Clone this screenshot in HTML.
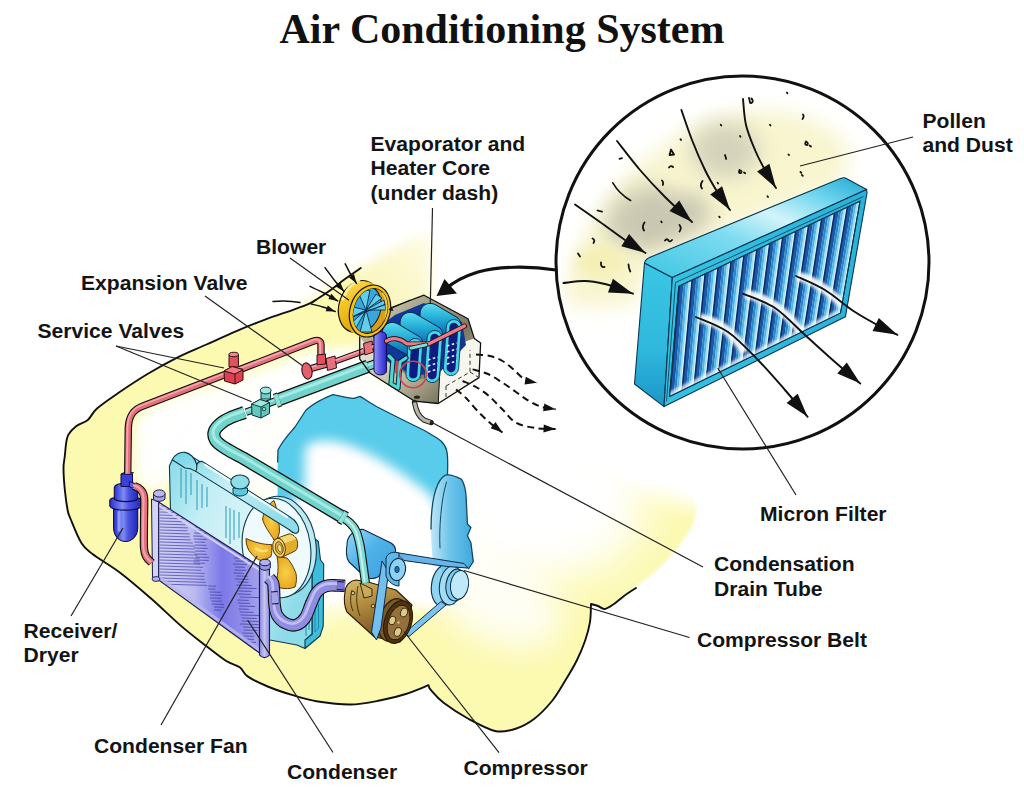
<!DOCTYPE html>
<html><head><meta charset="utf-8">
<style>
html,body{margin:0;padding:0;background:#fff;}
body{width:1024px;height:796px;overflow:hidden;position:relative;}
svg{position:absolute;left:0;top:0;}
.t{font-family:"Liberation Serif",serif;font-weight:bold;font-size:42px;fill:#111;}
.l{font-family:"Liberation Sans",sans-serif;font-weight:bold;font-size:21.1px;fill:#141414;}
.k{fill:none;stroke:#111;stroke-width:1.3;stroke-linecap:round;stroke-linejoin:round;}
.ld{fill:none;stroke:#222;stroke-width:1.2;}
</style></head><body>
<svg width="1024" height="796" viewBox="0 0 1024 796">
<!-- defs -->
<defs>
<filter id="b6" x="-30%" y="-30%" width="160%" height="160%"><feGaussianBlur stdDeviation="6"/></filter>
<filter id="b10" x="-30%" y="-30%" width="160%" height="160%"><feGaussianBlur stdDeviation="10"/></filter>
<filter id="b16" x="-40%" y="-40%" width="180%" height="180%"><feGaussianBlur stdDeviation="16"/></filter>
<filter id="b25" x="-50%" y="-50%" width="200%" height="200%"><feGaussianBlur stdDeviation="25"/></filter>
<filter id="b3" x="-30%" y="-30%" width="160%" height="160%"><feGaussianBlur stdDeviation="3"/></filter>
<filter id="b2" x="-30%" y="-30%" width="160%" height="160%"><feGaussianBlur stdDeviation="1.6"/></filter>
<marker id="ah" viewBox="0 0 10 10" refX="9" refY="5" markerWidth="9" markerHeight="9" orient="auto-start-reverse" markerUnits="userSpaceOnUse"><path d="M0,0 L10,5 L0,10 z" fill="#111"/></marker>
</defs>
<!-- body -->
<g id="body">
<linearGradient id="patchg" gradientUnits="userSpaceOnUse" x1="590" y1="500" x2="680" y2="560"><stop offset="0" stop-color="#fbf6b8" stop-opacity="0"/><stop offset=".55" stop-color="#fbf6b8" stop-opacity=".75"/><stop offset="1" stop-color="#fbf5b2" stop-opacity="1"/></linearGradient>
<linearGradient id="hazeg" gradientUnits="userSpaceOnUse" x1="340" y1="320" x2="425" y2="240"><stop offset="0" stop-color="#fbf6b4"/><stop offset=".5" stop-color="#fbf7c4"/><stop offset="1" stop-color="#fdfbe2"/></linearGradient>
<path d="M298,309 L360,268 L412,238 C424,232 432,236 432,246 L432,300 L400,325 L330,330 z" fill="url(#hazeg)" filter="url(#b6)"/>
<path d="M360.8,268.0 C358.2,269.8 350.1,275.3 345.0,279.0 C339.9,282.7 334.8,286.9 330.3,290.2 C325.8,293.4 321.3,296.4 318.0,298.5 C314.7,300.6 314.3,301.3 310.4,303.1 C306.5,304.9 302.0,306.6 294.4,309.3 C286.8,312.1 274.8,315.9 265.0,319.6 C255.2,323.3 245.6,327.2 235.8,331.3 C226.1,335.4 216.3,340.1 206.5,344.5 C196.7,348.9 187.0,352.7 177.2,357.6 C167.4,362.5 157.7,367.9 147.9,373.8 C138.1,379.7 127.1,387.0 118.6,392.8 C110.1,398.6 102.1,404.0 97.0,408.5 C91.9,413.0 91.2,417.1 87.8,420.0 C84.4,422.9 79.9,423.2 76.5,426.0 C73.1,428.8 69.6,431.3 67.6,436.5 C65.6,441.7 65.4,451.7 64.7,457.0 C64.0,462.3 63.5,462.8 63.5,468.4 C63.5,474.0 64.2,483.6 64.9,490.5 C65.6,497.4 66.7,505.3 67.6,510.0 C68.5,514.7 68.1,513.0 70.4,518.5 C72.7,524.0 77.7,537.1 81.4,543.0 C85.1,548.9 86.0,549.0 92.5,554.0 C99.0,559.0 110.7,565.6 120.4,572.9 C130.1,580.2 140.4,589.2 150.5,598.0 C160.6,606.8 171.5,617.6 180.7,625.6 C189.9,633.6 198.3,639.8 205.8,645.7 C213.3,651.6 220.2,657.1 225.9,660.8 C231.6,664.4 236.4,665.0 240.0,667.6 C243.6,670.2 243.0,673.2 247.6,676.4 C252.2,679.5 260.2,683.4 267.7,686.5 C275.2,689.6 284.4,692.7 292.8,695.2 C301.2,697.7 308.4,700.0 318.0,701.5 C327.6,703.0 340.1,704.7 350.6,704.5 C361.1,704.3 371.6,702.0 380.8,700.3 C390.0,698.5 397.9,696.5 405.9,694.0 C413.8,691.5 424.7,686.7 428.5,685.2 C428.9,686.0 428.5,687.3 431.0,690.2 C433.5,693.1 437.3,698.0 443.6,702.8 C449.9,707.6 460.1,714.3 468.7,719.0 C477.3,723.7 487.3,729.3 495.0,731.0 C502.7,732.7 508.5,731.0 515.0,729.0 C521.5,727.0 527.8,723.7 534.0,719.0 C540.2,714.3 546.7,707.5 552.0,701.0 C557.3,694.5 561.4,686.8 565.6,680.0 C569.8,673.2 573.8,666.5 577.0,660.0 C580.2,653.5 582.8,647.3 585.0,641.0 C587.2,634.7 589.0,628.2 590.0,622.0 C591.0,615.8 590.8,607.0 591.0,604.0 C592.2,604.3 595.7,605.2 598.0,606.0 C600.3,606.8 602.0,609.3 604.7,609.0 C607.4,608.7 610.8,606.2 614.0,604.0 C617.2,601.8 620.3,598.7 624.0,596.0 C627.7,593.3 634.0,589.3 636.0,588.0 C639.2,585.5 649.0,578.3 655.0,573.0 C661.0,567.7 666.8,561.8 672.0,556.0 C677.2,550.2 682.1,544.0 686.0,538.0 C689.9,532.0 693.8,525.8 695.6,520.0 C697.4,514.2 697.9,507.8 697.0,503.0 C696.1,498.2 693.0,493.8 690.0,491.0 C687.0,488.2 680.8,486.8 679.0,486.0 L650,484 L600,470 L560,450 L480,420 L428,345 L366,336 L353,300 z" fill="#fcf9b0"/>
<ellipse cx="490" cy="480" rx="120" ry="95" fill="#fff" filter="url(#b25)"/>
<ellipse cx="568" cy="500" rx="78" ry="72" fill="#fff" filter="url(#b25)"/>
<ellipse cx="400" cy="430" rx="110" ry="50" fill="#fff" filter="url(#b16)"/>
<ellipse cx="495" cy="598" rx="72" ry="42" transform="rotate(28 495 598)" fill="#fff" filter="url(#b16)" opacity=".85"/>
<ellipse cx="500" cy="370" rx="45" ry="60" fill="#fff" filter="url(#b10)"/>
<ellipse cx="330" cy="560" rx="40" ry="55" fill="#fff" filter="url(#b16)"/>
<path d="M135,482 L135,428 C137,416 143,411 151,408 L230,379 L318,348 L362,346 L372,372 L420,408 L380,440 L330,470 L300,520 L240,492 L172,458 L158,494 z" fill="#fff" filter="url(#b6)" opacity=".93"/>
<ellipse cx="185" cy="445" rx="42" ry="45" fill="#fff" filter="url(#b10)" opacity=".9"/>
<ellipse cx="215" cy="440" rx="50" ry="38" fill="#fff" filter="url(#b16)" opacity=".75"/>
<ellipse cx="290" cy="383" rx="62" ry="11" transform="rotate(-20 290 383)" fill="#fff" filter="url(#b6)" opacity=".9"/>
<path d="M712,492 L690,482 L640,466 L560,440 L470,410" fill="none" stroke="#fff" stroke-width="46" filter="url(#b10)"/>
<path d="M636.0,588.0 C639.2,585.5 649.0,578.3 655.0,573.0 C661.0,567.7 666.8,561.8 672.0,556.0 C677.2,550.2 682.1,544.0 686.0,538.0 C689.9,532.0 693.8,525.8 695.6,520.0 C697.4,514.2 697.9,507.8 697.0,503.0 C696.1,498.2 693.0,493.8 690.0,491.0 C687.0,488.2 680.8,486.8 679.0,486.0" fill="none" stroke="#fff" stroke-width="3" filter="url(#b2)" opacity=".8"/>
<path class="k" style="stroke-width:1.9" d="M360.8,268.0 C358.2,269.8 350.1,275.3 345.0,279.0 C339.9,282.7 334.8,286.9 330.3,290.2 C325.8,293.4 321.3,296.4 318.0,298.5 C314.7,300.6 314.3,301.3 310.4,303.1 C306.5,304.9 302.0,306.6 294.4,309.3 C286.8,312.1 274.8,315.9 265.0,319.6 C255.2,323.3 245.6,327.2 235.8,331.3 C226.1,335.4 216.3,340.1 206.5,344.5 C196.7,348.9 187.0,352.7 177.2,357.6 C167.4,362.5 157.7,367.9 147.9,373.8 C138.1,379.7 127.1,387.0 118.6,392.8 C110.1,398.6 102.1,404.0 97.0,408.5 C91.9,413.0 91.2,417.1 87.8,420.0 C84.4,422.9 79.9,423.2 76.5,426.0 C73.1,428.8 69.6,431.3 67.6,436.5 C65.6,441.7 65.4,451.7 64.7,457.0 C64.0,462.3 63.5,462.8 63.5,468.4 C63.5,474.0 64.2,483.6 64.9,490.5 C65.6,497.4 66.7,505.3 67.6,510.0 C68.5,514.7 68.1,513.0 70.4,518.5 C72.7,524.0 77.7,537.1 81.4,543.0 C85.1,548.9 86.0,549.0 92.5,554.0 C99.0,559.0 110.7,565.6 120.4,572.9 C130.1,580.2 140.4,589.2 150.5,598.0 C160.6,606.8 171.5,617.6 180.7,625.6 C189.9,633.6 198.3,639.8 205.8,645.7 C213.3,651.6 220.2,657.1 225.9,660.8 C231.6,664.4 236.4,665.0 240.0,667.6 C243.6,670.2 243.0,673.2 247.6,676.4 C252.2,679.5 260.2,683.4 267.7,686.5 C275.2,689.6 284.4,692.7 292.8,695.2 C301.2,697.7 308.4,700.0 318.0,701.5 C327.6,703.0 340.1,704.7 350.6,704.5 C361.1,704.3 371.6,702.0 380.8,700.3 C390.0,698.5 397.9,696.5 405.9,694.0 C413.8,691.5 424.7,686.7 428.5,685.2 C428.9,686.0 428.5,687.3 431.0,690.2 C433.5,693.1 437.3,698.0 443.6,702.8 C449.9,707.6 460.1,714.3 468.7,719.0 C477.3,723.7 487.3,729.3 495.0,731.0 C502.7,732.7 508.5,731.0 515.0,729.0 C521.5,727.0 527.8,723.7 534.0,719.0 C540.2,714.3 546.7,707.5 552.0,701.0 C557.3,694.5 561.4,686.8 565.6,680.0 C569.8,673.2 573.8,666.5 577.0,660.0 C580.2,653.5 582.8,647.3 585.0,641.0 C587.2,634.7 589.0,628.2 590.0,622.0 C591.0,615.8 590.8,607.0 591.0,604.0 C592.2,604.3 595.7,605.2 598.0,606.0 C600.3,606.8 602.0,609.3 604.7,609.0 C607.4,608.7 610.8,606.2 614.0,604.0 C617.2,601.8 620.3,598.7 624.0,596.0 C627.7,593.3 634.0,589.3 636.0,588.0"/>
</g>
<!-- engine -->
<g id="engine">
<path d="M277.6,470 L278,450 C283,440 290,433 295,427 L306,410 C314,403 324,398 333,394.6 C340,396 348,398.5 354,398.3 L360,396.4 C366,400 372,404 377.4,407 L401,419 L424.4,430.5 C430,434 436,437 441,441 C444,444 446,447 446.7,450.5 C448,456 448,462 447.5,474 L447,520 L380,520 L277.6,500 z" fill="#58ccea"/>
<path d="M305,447 C328,426 384,457 430,494 L470,560 L440,610 L300,600 L262,530 L285,508 L304,492 z" fill="#fff" filter="url(#b6)"/>
<path class="k" style="stroke:#0f4a66" d="M277.6,462 L278,450 C283,440 290,433 295,427 L306,410 C314,403 324,398 333,394.6 C340,396 348,398.5 354,398.3 L360,396.4 C366,400 372,404 377.4,407 L401,419 L424.4,430.5 C430,434 436,437 441,441 C444,444 446,447 446.7,450.5 C448,456 448,462 447.5,474"/>
<!-- timing cover -->
<linearGradient id="tcg" x1="0" y1="0" x2="1" y2="0"><stop offset="0" stop-color="#bfe6f6"/><stop offset=".45" stop-color="#6cc4ea"/><stop offset="1" stop-color="#3fa9dc"/></linearGradient>
<path d="M433.5,566 C431,545 430.5,528 431.5,515 C432,502 434,492 438,484 C441,478 444,475 447.4,474.7 C452,475 457,477 461.5,479.4 C465,485 466,492 466.2,498.2 L467.4,524 L470.9,527.5 L467.4,535.8 L470.9,542.8 L473.3,561.6 L468.6,568.6 z" fill="url(#tcg)"/>
<path class="k" style="stroke:#0f4a66" d="M431,529 C431,512 433,495 438,484 C441,478 444,475 447.4,474.7 C452,475 457,477 461.5,479.4 C465,485 466,492 466.2,498.2 L467.4,524 L470.9,527.5 L467.4,535.8 L470.9,542.8 L473.3,561.6 L468.6,568.6"/>
<path class="k" style="stroke-width:1;stroke:#0f4a66" d="M446.5,482 C441,500 439,528 440,548"/>
</g>
<!-- radiator -->
<g id="radiator">
<linearGradient id="radg" x1="0" y1="0" x2="1" y2="0.6"><stop offset="0" stop-color="#86d9e8"/><stop offset=".3" stop-color="#c4eef5"/><stop offset=".6" stop-color="#d9f5f9"/><stop offset="1" stop-color="#8edbea"/></linearGradient>
<linearGradient id="tankg" x1="0" y1="0" x2="0.5" y2="1"><stop offset="0" stop-color="#6fd3e6"/><stop offset=".5" stop-color="#c9f0f6"/><stop offset="1" stop-color="#8fdcea"/></linearGradient>
<linearGradient id="cong" x1="0" y1="0" x2="1" y2="0"><stop offset="0" stop-color="#cfcff4"/><stop offset=".35" stop-color="#bcbbf0"/><stop offset=".5" stop-color="#9896ec"/><stop offset=".63" stop-color="#7c78e8"/><stop offset=".8" stop-color="#8d8ae8"/><stop offset="1" stop-color="#a2a0ec"/></linearGradient>
<linearGradient id="postg" x1="0" y1="0" x2="1" y2="0"><stop offset="0" stop-color="#8a88e0"/><stop offset=".5" stop-color="#c4c3f2"/><stop offset="1" stop-color="#8e8ce2"/></linearGradient>
<linearGradient id="recg" x1="0" y1="0" x2="1" y2="0"><stop offset="0" stop-color="#2a2fd0"/><stop offset=".4" stop-color="#7f8cf2"/><stop offset=".6" stop-color="#4a55e0"/><stop offset="1" stop-color="#2226b8"/></linearGradient>
<radialGradient id="fang" cx=".5" cy=".5" r=".6"><stop offset="0" stop-color="#f7d04a"/><stop offset="1" stop-color="#e7a21c"/></radialGradient>
<path d="M312,537 L318.3,541.2 L320.5,560 L323.7,564 L323.2,626 L320,636 L305,648.5 L304,640 L312,634 z" fill="#3fbcdc" stroke="#0d3a4a" stroke-width="1.1" stroke-linejoin="round"/>
<path d="M169.4,466 L172.3,459.7 L185,452.4 L294.7,519.4 L312,537 L312,634 L305,640 L305,648.5 L297,645 L270,640 L172,572 z" fill="url(#radg)" stroke="#0d3a4a" stroke-width="1.1" stroke-linejoin="round"/>
<path d="M306,600 L306,636 M309,610 L309,630 M315,590 L315,632 L318.5,628 L318.5,604" fill="none" stroke="#1a8aa8" stroke-width="1"/>
<path d="M181,468 L181,498 M186,470 L186,504 M191,473 L191,495 M197,480 L197,510 M202,484 L202,508 M207,487 L207,507 M226,506 L226,538 M230,508 L230,544 M234,510 L234,540 M239,512 L239,538 M246,520 L246,538" fill="none" stroke="#2a9ab6" stroke-width="1"/>
<ellipse cx="281" cy="546" rx="35" ry="50" transform="rotate(-8 281 546)" fill="#bfeaf3" stroke="#0d3a4a" stroke-width="1.1"/>
<ellipse cx="276.5" cy="548" rx="34" ry="50" transform="rotate(-8 276.5 548)" fill="#eefafc" stroke="#0d3a4a" stroke-width="1.1"/>
<path d="M274,540 C270,533 264,526 262.6,519 C264,510 269,503.5 274,500.5 C277,508 279,520 279.5,530 C279.5,534 278,537 277,539 z" fill="url(#fang)" stroke="#5a3a08" stroke-width="1"/>
<path d="M271.6,544.5 C264,545 254,542 246,538.5 C246,545 248,550 251,553 C254,557 258,560 261,560.5 C265,560 268,558 271,556.5 C272,553 272,548 271.6,544.5 z" fill="url(#fang)" stroke="#5a3a08" stroke-width="1"/>
<path d="M277,556.5 C279,566 278,577 275,586 C281,589 289,589.5 295,587 C297,581 297,575 295,571 C293,566 290,561 287,558 z" fill="url(#fang)" stroke="#5a3a08" stroke-width="1"/>
<path d="M255,548 C258,551 263,552 268,550" fill="none" stroke="#fbe58a" stroke-width="2" opacity=".8"/>
<path d="M172.3,459.7 C174,455 180,451.5 185,452.4 C190,453 195,458 196.8,464.6 C198,462 200,461 202.7,461.6 L290,517 C296,520.5 299.5,526 298.5,531 C297.5,535 293,533.5 288.9,529.5 L195.8,471.4 C192,469 188,468 185,468 z" fill="url(#tankg)" stroke="#0d3a4a" stroke-width="1.1" stroke-linejoin="round"/>
<path d="M205,465 L287,517" fill="none" stroke="#f2fcfd" stroke-width="2.4" stroke-linecap="round" opacity=".9"/>
<path class="k" style="stroke-width:1" d="M196.8,464.6 C197,468 196.5,470 195.8,471.4"/>
<path d="M233,488 L233,493 C236,497 244,497 247.5,493 L247.5,488 z" fill="#5cc9dd" stroke="#0d3a4a" stroke-width="1"/>
<ellipse cx="240" cy="482" rx="9.2" ry="7" fill="#8fdfeb" stroke="#0d3a4a" stroke-width="1.1"/>
<path d="M276.5,538.5 L289,533.8 C295,534.5 298.5,540 297.5,546 C297,549 296,550.5 295,551 L281.5,557.5 z" fill="#e2ac2c" stroke="#5a3a08" stroke-width="1"/>
<path d="M279,538 L290,534.5 C293,535 295,537 296,539 L283,544 z" fill="#f5d878"/>
<ellipse cx="279" cy="547.8" rx="6.2" ry="9.6" transform="rotate(-12 279 547.8)" fill="#f3d670" stroke="#5a3a08" stroke-width="1"/>
<ellipse cx="279.3" cy="548" rx="3.8" ry="6.4" transform="rotate(-12 279.3 548)" fill="#e0b040" stroke="#5a3a08" stroke-width=".8"/>
<ellipse cx="279.8" cy="548.2" rx="2" ry="3.8" transform="rotate(-12 279.8 548.2)" fill="#f6e08c" stroke="#5a3a08" stroke-width=".6"/>
<clipPath id="conclip"><path d="M158.6,502 L259.5,566.5 L259.5,653 L158.6,580 z"/></clipPath>
<path d="M158.6,502 L259.5,566.5 L259.5,653 L158.6,580 z" fill="url(#cong)" stroke="#1a1a50" stroke-width="1.1"/>
<g clip-path="url(#conclip)"><path d="M159.5,506.0 l20.5,0.6 M159.5,509.0 l21.0,0.6 M159.5,512.0 l23.6,0.7 M159.5,515.0 l22.9,0.7 M159.5,518.0 l25.3,0.8 M159.5,521.0 l25.8,0.8 M159.5,524.0 l26.0,0.8 M159.5,527.0 l28.4,0.9 M159.5,530.0 l28.0,0.8 M159.5,533.0 l30.3,0.9 M159.5,536.0 l30.2,0.9 M159.5,539.0 l31.3,0.9 M159.5,542.0 l33.4,1.0 M159.5,545.0 l35.6,1.1 M159.5,548.0 l34.6,1.0 M159.5,551.0 l35.9,1.1 M159.5,554.0 l38.2,1.1 M159.5,557.0 l40.2,1.2 M159.5,560.0 l40.1,1.2 M159.5,563.0 l40.6,1.2 M159.5,566.0 l43.4,1.3 M159.5,569.0 l41.7,1.3 M159.5,572.0 l45.2,1.4 M159.5,575.0 l44.5,1.3 M159.5,578.0 l45.1,1.4 M159.5,581.0 l46.1,1.4 M159.5,584.0 l47.7,1.4" fill="none" stroke="#4a48ac" stroke-width=".85" opacity=".9"/>
<path d="M195.4,527.0 l10.1,0.3 M194.7,530.0 l12.8,0.4 M194.1,533.0 l12.3,0.4 M193.2,536.0 l9.4,0.3 M193.6,539.0 l13.1,0.4 M194.3,542.0 l10.9,0.3 M194.8,545.0 l11.7,0.4 M193.9,548.0 l13.8,0.4 M195.1,551.0 l10.5,0.3 M194.7,554.0 l12.2,0.4 M195.6,557.0 l13.4,0.4 M193.9,560.0 l14.9,0.4 M193.4,563.0 l11.5,0.3 M208.3,586.0 l7.9,0.2 M208.2,589.0 l7.2,0.2 M209.5,592.0 l11.6,0.3 M210.0,595.0 l12.3,0.4 M209.9,598.0 l11.2,0.3 M211.5,601.0 l10.5,0.3 M211.9,604.0 l12.0,0.4 M214.1,607.0 l9.8,0.3 M214.0,610.0 l7.4,0.2 M233.8,558.0 l16.5,0.5 M235.4,561.0 l18.2,0.5 M232.9,564.0 l13.9,0.4 M234.8,567.0 l10.2,0.3 M234.4,570.0 l11.7,0.4 M233.4,573.0 l10.6,0.3 M236.4,576.0 l11.3,0.3 M234.7,579.0 l13.9,0.4 M237.6,582.0 l10.8,0.3 M236.3,585.0 l15.5,0.5 M238.4,588.0 l18.2,0.5 M238.8,591.0 l12.8,0.4 M237.4,594.0 l13.6,0.4 M239.6,597.0 l19.6,0.6 M237.1,600.0 l11.8,0.4 M237.8,603.0 l12.3,0.4 M239.2,606.0 l15.9,0.5 M238.7,609.0 l10.0,0.3 M239.7,612.0 l13.7,0.4 M240.7,615.0 l19.5,0.6 M241.6,618.0 l15.2,0.5 M241.7,621.0 l16.8,0.5 M239.8,624.0 l19.0,0.6 M243.1,627.0 l18.7,0.6 M243.6,630.0 l13.9,0.4 M242.4,633.0 l11.0,0.3 M243.7,636.0 l10.6,0.3 M241.8,639.0 l12.1,0.4 M242.6,642.0 l13.4,0.4 M242.6,645.0 l10.0,0.3 M243.3,648.0 l11.0,0.3" fill="none" stroke="#3c3aa2" stroke-width=".85" opacity=".85"/></g>
<path d="M158.6,505.5 L259.5,570" fill="none" stroke="#d4d3f6" stroke-width="2"/>
<path d="M158.6,577 L259.5,650" fill="none" stroke="#b9b8ee" stroke-width="3" opacity=".8"/>
<path d="M151.5,499 L158.6,502 L158.6,581 L152.5,578 z" fill="#d4d3f6" stroke="#1a1a50" stroke-width="1"/>
<path d="M153.5,494 L153.5,499 C155,502 163,502 165,499 L165,494 z" fill="#a8a6ea" stroke="#1a1a50" stroke-width="1"/>
<ellipse cx="159.3" cy="493.5" rx="5.8" ry="3.6" fill="#bab8f0" stroke="#1a1a50" stroke-width="1"/>
<ellipse cx="156" cy="579" rx="4" ry="2.4" fill="#b8b6ee" stroke="#1a1a50" stroke-width=".9"/>
<path d="M259.5,568 L269.5,568 L269.5,655 C267,658.5 262,658.5 259.5,655 z" fill="url(#postg)" stroke="#1a1a50" stroke-width="1.1"/>
<path d="M259.8,563 L259.8,568 C262,571 268,571 270.3,568 L270.3,563 z" fill="#9a98e6" stroke="#1a1a50" stroke-width="1"/>
<ellipse cx="265" cy="562.5" rx="5.3" ry="3.3" fill="#b3b1ee" stroke="#1a1a50" stroke-width="1"/>
<path d="M113.6,506 L113.6,528 C114,536 119,541.5 125.5,541.5 C132,541.5 137.5,536 137.7,528 L137.7,506 z" fill="url(#recg)" stroke="#0c0c50" stroke-width="1.1"/>
<path d="M109.8,500 L109.8,506 C112,511.5 139,511.5 141.5,506 L141.5,500 C139,495.5 112,495.5 109.8,500 z" fill="url(#recg)" stroke="#0c0c50" stroke-width="1.1"/>
<path d="M114.3,488 C114.3,481.5 137.7,481.5 137.7,488 L137.7,499 C134,502.5 118,502.5 114.3,499 z" fill="url(#recg)" stroke="#0c0c50" stroke-width="1.1"/>
<path d="M121,474 L132.4,474 L132.8,486.5 L121,486.5 z" fill="#3a40d8" stroke="#0c0c50" stroke-width="1"/>
<path d="M121,474 L124,472.5 L133.5,472.5 L132.4,474 z" fill="#6a72ea" stroke="#0c0c50" stroke-width=".8"/>
<path d="M129.4,481.5 L136.2,484 L136.2,489 L129.4,487 z" fill="#5a62e6" stroke="#0c0c50" stroke-width=".9"/>
<path d="M119,512 L119,530" stroke="#aab2fa" stroke-width="3" stroke-linecap="round" opacity=".7"/>
</g>
<!-- evapbox -->
<g id="evapbox">
<linearGradient id="bxt" x1="0" y1="0" x2="1" y2="1"><stop offset="0" stop-color="#e4e2d0"/><stop offset=".3" stop-color="#a8a488"/><stop offset=".6" stop-color="#7e7a60"/><stop offset="1" stop-color="#c9c6ae"/></linearGradient>
<linearGradient id="bxl" x1="0" y1="0" x2="1" y2="1"><stop offset="0" stop-color="#efeee2"/><stop offset=".55" stop-color="#c2bfa6"/><stop offset="1" stop-color="#77735a"/></linearGradient>
<linearGradient id="blw" x1="0" y1="0" x2="1" y2="1"><stop offset="0" stop-color="#f9e27a"/><stop offset=".35" stop-color="#f3c520"/><stop offset=".75" stop-color="#e0a512"/><stop offset="1" stop-color="#b8860c"/></linearGradient>
<linearGradient id="coil" x1="0" y1="0" x2="0" y2="1"><stop offset="0" stop-color="#5adeee"/><stop offset=".5" stop-color="#1fa8d4"/><stop offset="1" stop-color="#0d62ac"/></linearGradient>
<linearGradient id="vb" x1="0" y1="0" x2="1" y2="0"><stop offset="0" stop-color="#9a98f6"/><stop offset=".5" stop-color="#5a58e6"/><stop offset="1" stop-color="#2a28c8"/></linearGradient>
<!-- box -->
<path d="M359.7,336.8 L392.7,307 L424,295.2 L468,318.7 L474.3,338.4 L480.6,343 L479,377.6 L438.2,403.5 L414.6,401.2 L370,373 L359.7,358.8 z" fill="url(#bxt)"/>
<path d="M439.8,350 L474.3,338.4 L480.6,343 L479,377.6 L438.2,403.5 z" fill="#f7f6ee"/>
<path d="M359.7,336.8 L370,350 L414.6,380 L439.8,377.6 L438.2,403.5 L414.6,401.2 L370,373 L359.7,358.8 z" fill="url(#bxl)"/>
<path d="M372,332 L395,315 L424,303 L462,322 L466,345 L440,372 L414,376 L378,356 z" fill="#12379a"/>
</g>
<!-- pipes -->
<g id="pipes">
<path d="M127.7,474 L128.3,428 C128.8,416 133,409.5 143,406 L225,374.5" fill="none" stroke="#101010" stroke-width="7.4" stroke-linecap="butt" stroke-linejoin="round"/><path d="M127.7,474 L128.3,428 C128.8,416 133,409.5 143,406 L225,374.5" fill="none" stroke="#e4707c" stroke-width="5.2" stroke-linecap="butt" stroke-linejoin="round"/><path d="M127.7,474 L128.3,428 C128.8,416 133,409.5 143,406 L225,374.5" fill="none" stroke="#f4a6ae" stroke-width="1.8" stroke-linecap="butt" stroke-linejoin="round" transform="translate(-0.8,-1)"/>
<path d="M240,369.5 L313,341.3 C318,339.5 321,340.5 321,345 L321,357" fill="none" stroke="#101010" stroke-width="7.4" stroke-linecap="butt" stroke-linejoin="round"/><path d="M240,369.5 L313,341.3 C318,339.5 321,340.5 321,345 L321,357" fill="none" stroke="#e4707c" stroke-width="5.2" stroke-linecap="butt" stroke-linejoin="round"/><path d="M240,369.5 L313,341.3 C318,339.5 321,340.5 321,345 L321,357" fill="none" stroke="#f4a6ae" stroke-width="1.8" stroke-linecap="butt" stroke-linejoin="round" transform="translate(-0.8,-1)"/>
<path d="M134.0,486.0 C135.0,486.5 138.3,487.2 140.0,489.0 C141.7,490.8 143.3,491.8 144.0,497.0 C144.7,502.2 144.0,511.5 144.0,520.0 C144.0,528.5 143.6,541.8 144.0,548.0 C144.4,554.2 145.2,554.5 146.5,557.0 C147.8,559.5 150.9,561.8 151.8,562.8" fill="none" stroke="#101010" stroke-width="8.2" stroke-linecap="butt" stroke-linejoin="round"/><path d="M134.0,486.0 C135.0,486.5 138.3,487.2 140.0,489.0 C141.7,490.8 143.3,491.8 144.0,497.0 C144.7,502.2 144.0,511.5 144.0,520.0 C144.0,528.5 143.6,541.8 144.0,548.0 C144.4,554.2 145.2,554.5 146.5,557.0 C147.8,559.5 150.9,561.8 151.8,562.8" fill="none" stroke="#e4707c" stroke-width="6.0" stroke-linecap="butt" stroke-linejoin="round"/><path d="M134.0,486.0 C135.0,486.5 138.3,487.2 140.0,489.0 C141.7,490.8 143.3,491.8 144.0,497.0 C144.7,502.2 144.0,511.5 144.0,520.0 C144.0,528.5 143.6,541.8 144.0,548.0 C144.4,554.2 145.2,554.5 146.5,557.0 C147.8,559.5 150.9,561.8 151.8,562.8" fill="none" stroke="#f4a6ae" stroke-width="2.0" stroke-linecap="butt" stroke-linejoin="round" transform="translate(-0.8,-1)"/>
<path d="M229,354.5 L229,367 L238.4,367 L238.4,354.5 z" fill="#e4505e" stroke="#301014" stroke-width="1"/>
<ellipse cx="233.7" cy="354.5" rx="4.7" ry="2.2" fill="#f08890" stroke="#301014" stroke-width="1"/>
<path d="M224,371 L232,366.5 L243,369.5 L243,380 L235,384 L224.5,381 z" fill="#e0404e" stroke="#301014" stroke-width="1" stroke-linejoin="round"/>
<path d="M224,371 L235,374 L243,369.5 M235,374 L235,384" fill="none" stroke="#301014" stroke-width=".9"/>
<path d="M224,371 L232,366.5 L243,369.5 L235,374 z" fill="#f07a84" stroke="#301014" stroke-width=".9" stroke-linejoin="round"/>
<path d="M311,368.5 L336,361.5" fill="none" stroke="#101010" stroke-width="7.2" stroke-linecap="butt" stroke-linejoin="round"/><path d="M311,368.5 L336,361.5" fill="none" stroke="#e4707c" stroke-width="5.0" stroke-linecap="butt" stroke-linejoin="round"/><path d="M311,368.5 L336,361.5" fill="none" stroke="#f4a6ae" stroke-width="1.6" stroke-linecap="butt" stroke-linejoin="round" transform="translate(-0.8,-1)"/>
<ellipse cx="307" cy="371" rx="5" ry="8.2" transform="rotate(-12 307 371)" fill="#e4606c" stroke="#301014" stroke-width="1.1"/>
<path d="M317,355 L325.5,354 L325.5,364 L317,365 z" fill="#e0505e" stroke="#301014" stroke-width="1"/>
<path d="M326,358.5 L335,356 L336.5,368 L327.5,370.5 z" fill="#e8707c" stroke="#301014" stroke-width="1" stroke-linejoin="round"/>
<path d="M336,361.2 L364,351 " fill="none" stroke="#101010" stroke-width="6.2" stroke-linecap="butt" stroke-linejoin="round"/><path d="M336,361.2 L364,351 " fill="none" stroke="#e4707c" stroke-width="4.0" stroke-linecap="butt" stroke-linejoin="round"/><path d="M336,361.2 L364,351 " fill="none" stroke="#f4a6ae" stroke-width="1.5" stroke-linecap="butt" stroke-linejoin="round" transform="translate(-0.8,-1)"/>
<path d="M363.5,343.5 L372,341 L373.5,352 L365,355 z" fill="#e8707c" stroke="#301014" stroke-width="1" stroke-linejoin="round"/>
<path d="M372,347.5 L381,344.5" fill="none" stroke="#101010" stroke-width="5.6" stroke-linecap="butt" stroke-linejoin="round"/><path d="M372,347.5 L381,344.5" fill="none" stroke="#e4707c" stroke-width="3.4" stroke-linecap="butt" stroke-linejoin="round"/><path d="M372,347.5 L381,344.5" fill="none" stroke="#f4a6ae" stroke-width="1.4" stroke-linecap="butt" stroke-linejoin="round" transform="translate(-0.8,-1)"/>
<path d="M376,363.5 L366,367" fill="none" stroke="#101010" stroke-width="9.0" stroke-linecap="butt" stroke-linejoin="round"/><path d="M376,363.5 L366,367" fill="none" stroke="#70d4cc" stroke-width="6.8" stroke-linecap="butt" stroke-linejoin="round"/><path d="M376,363.5 L366,367" fill="none" stroke="#a6ebe3" stroke-width="2.0" stroke-linecap="butt" stroke-linejoin="round" transform="translate(-0.8,-1)"/>
<path d="M368,366.2 L276.5,400.5" fill="none" stroke="#101010" stroke-width="13.2" stroke-linecap="butt" stroke-linejoin="round"/><path d="M368,366.2 L276.5,400.5" fill="none" stroke="#70d4cc" stroke-width="10.6" stroke-linecap="butt" stroke-linejoin="round"/><path d="M368,366.2 L276.5,400.5" fill="none" stroke="#a6ebe3" stroke-width="3.0" stroke-linecap="butt" stroke-linejoin="round" transform="translate(-0.7,-1.7)"/>
<path d="M279.5,399.4 L275.5,400.9" fill="none" stroke="#101010" stroke-width="14.6" stroke-linecap="butt" stroke-linejoin="round"/><path d="M279.5,399.4 L275.5,400.9" fill="none" stroke="#8fe0da" stroke-width="12.4" stroke-linecap="butt" stroke-linejoin="round"/>
<path d="M275,401 L246,412.3" fill="none" stroke="#101010" stroke-width="7.5" stroke-linecap="butt" stroke-linejoin="round"/><path d="M275,401 L246,412.3" fill="none" stroke="#70d4cc" stroke-width="5.3" stroke-linecap="butt" stroke-linejoin="round"/><path d="M275,401 L246,412.3" fill="none" stroke="#a6ebe3" stroke-width="1.6" stroke-linecap="butt" stroke-linejoin="round" transform="translate(-0.8,-1)"/>
<path d="M261,391 L261,399 L270.5,399 L270.5,391 z" fill="#6fd0c8" stroke="#0c3030" stroke-width="1"/>
<ellipse cx="265.7" cy="390.5" rx="5.4" ry="3.4" fill="#a0e8e0" stroke="#0c3030" stroke-width="1"/>
<path d="M251.6,404 L260,399.5 L269.5,402.5 L269.5,413.5 L261,418 L252,415 z" fill="#62c8bf" stroke="#0c3030" stroke-width="1" stroke-linejoin="round"/>
<path d="M251.6,404 L260,399.5 L269.5,402.5 L261,407 z" fill="#a0e8e0" stroke="#0c3030" stroke-width=".9" stroke-linejoin="round"/>
<path d="M261,407 L261,418" stroke="#0c3030" stroke-width=".9"/>
<circle cx="264" cy="409" r="1.8" fill="#8adad2" stroke="#0c3030" stroke-width=".8"/>
<path d="M244.5,412.5 C242.0,413.4 236.5,415.0 232.0,417.0 C227.5,419.0 225.5,419.7 222.0,422.5 C218.5,425.3 215.8,427.5 214.5,431.0 C213.2,434.5 213.4,436.6 215.5,440.0 C217.6,443.4 219.5,444.4 225.0,448.0 C230.5,451.6 239.4,456.0 243.0,458.0 L344,518" fill="none" stroke="#101010" stroke-width="13.2" stroke-linecap="butt" stroke-linejoin="round"/><path d="M244.5,412.5 C242.0,413.4 236.5,415.0 232.0,417.0 C227.5,419.0 225.5,419.7 222.0,422.5 C218.5,425.3 215.8,427.5 214.5,431.0 C213.2,434.5 213.4,436.6 215.5,440.0 C217.6,443.4 219.5,444.4 225.0,448.0 C230.5,451.6 239.4,456.0 243.0,458.0 L344,518" fill="none" stroke="#70d4cc" stroke-width="10.6" stroke-linecap="butt" stroke-linejoin="round"/><path d="M244.5,412.5 C242.0,413.4 236.5,415.0 232.0,417.0 C227.5,419.0 225.5,419.7 222.0,422.5 C218.5,425.3 215.8,427.5 214.5,431.0 C213.2,434.5 213.4,436.6 215.5,440.0 C217.6,443.4 219.5,444.4 225.0,448.0 C230.5,451.6 239.4,456.0 243.0,458.0 L344,518" fill="none" stroke="#a6ebe3" stroke-width="3.0" stroke-linecap="butt" stroke-linejoin="round" transform="translate(-0.8,-1.6)"/>
<path d="M341,516.3 L345,518.7" fill="none" stroke="#101010" stroke-width="14.4" stroke-linecap="butt" stroke-linejoin="round"/><path d="M341,516.3 L345,518.7" fill="none" stroke="#8fe0da" stroke-width="12.2" stroke-linecap="butt" stroke-linejoin="round"/>
<path d="M269.0,578.0 C269.8,579.0 272.0,580.2 273.0,583.0 C274.0,585.8 273.7,587.8 274.0,592.0 C274.3,596.2 273.9,599.4 274.5,604.0 C275.1,608.6 274.9,611.2 277.0,615.0 C279.1,618.8 281.2,621.0 285.0,623.0 C288.8,625.0 292.0,626.0 296.0,625.0 C300.0,624.0 302.0,622.2 305.0,618.0 C308.0,613.8 308.6,609.2 311.0,604.0 C313.4,598.8 314.0,595.6 317.0,592.0 C320.0,588.4 321.8,587.3 326.0,586.0 C330.2,584.7 334.2,585.5 338.0,585.5 C341.8,585.5 343.6,585.9 345.0,586.0" fill="none" stroke="#101010" stroke-width="12.6" stroke-linecap="butt" stroke-linejoin="round"/><path d="M269.0,578.0 C269.8,579.0 272.0,580.2 273.0,583.0 C274.0,585.8 273.7,587.8 274.0,592.0 C274.3,596.2 273.9,599.4 274.5,604.0 C275.1,608.6 274.9,611.2 277.0,615.0 C279.1,618.8 281.2,621.0 285.0,623.0 C288.8,625.0 292.0,626.0 296.0,625.0 C300.0,624.0 302.0,622.2 305.0,618.0 C308.0,613.8 308.6,609.2 311.0,604.0 C313.4,598.8 314.0,595.6 317.0,592.0 C320.0,588.4 321.8,587.3 326.0,586.0 C330.2,584.7 334.2,585.5 338.0,585.5 C341.8,585.5 343.6,585.9 345.0,586.0" fill="none" stroke="#8f8de2" stroke-width="10.4" stroke-linecap="butt" stroke-linejoin="round"/><path d="M269.0,578.0 C269.8,579.0 272.0,580.2 273.0,583.0 C274.0,585.8 273.7,587.8 274.0,592.0 C274.3,596.2 273.9,599.4 274.5,604.0 C275.1,608.6 274.9,611.2 277.0,615.0 C279.1,618.8 281.2,621.0 285.0,623.0 C288.8,625.0 292.0,626.0 296.0,625.0 C300.0,624.0 302.0,622.2 305.0,618.0 C308.0,613.8 308.6,609.2 311.0,604.0 C313.4,598.8 314.0,595.6 317.0,592.0 C320.0,588.4 321.8,587.3 326.0,586.0 C330.2,584.7 334.2,585.5 338.0,585.5 C341.8,585.5 343.6,585.9 345.0,586.0" fill="none" stroke="#c0bef2" stroke-width="2.8" stroke-linecap="butt" stroke-linejoin="round" transform="translate(-1,-1.8)"/>
<path d="M271.5,598 L278,597.5" fill="none" stroke="#101010" stroke-width="13.0" stroke-linecap="butt" stroke-linejoin="round"/><path d="M271.5,598 L278,597.5" fill="none" stroke="#a5a3ea" stroke-width="10.8" stroke-linecap="butt" stroke-linejoin="round"/>
<path d="M337,585.5 L344,586" fill="none" stroke="#101010" stroke-width="9.0" stroke-linecap="butt" stroke-linejoin="round"/><path d="M337,585.5 L344,586" fill="none" stroke="#7a78d4" stroke-width="6.8" stroke-linecap="butt" stroke-linejoin="round"/>
</g>
<!-- compressor -->
<g id="compressor">
<linearGradient id="idg" x1="0" y1="0" x2="1" y2="1"><stop offset="0" stop-color="#9bdaf6"/><stop offset=".45" stop-color="#4fb2e8"/><stop offset="1" stop-color="#3a9fde"/></linearGradient>
<linearGradient id="cpg" x1="0" y1="0" x2="1" y2="0"><stop offset="0" stop-color="#a9dff4"/><stop offset=".5" stop-color="#7ccdee"/><stop offset="1" stop-color="#5dbde8"/></linearGradient>
<linearGradient id="cmg" x1="0" y1="0" x2=".4" y2="1"><stop offset="0" stop-color="#d9bd6a"/><stop offset=".45" stop-color="#b08a3e"/><stop offset="1" stop-color="#6e4c1e"/></linearGradient>
<!-- idler body cylinder -->
<path d="M347,545 C347,536 354,529 363.3,529.4 L391,543 C396,546 397,552 394,557 L378,577 C372,580 366,578 363,575 L349,562 C346,558 346,550 347,545 z" fill="url(#idg)" stroke="#0c2c48" stroke-width="1.1" stroke-linejoin="round"/>
<!-- crank pulley -->
<ellipse cx="443.5" cy="585.5" rx="12" ry="20.5" transform="rotate(8 443.5 585.5)" fill="#8fd4f0" stroke="#0c2c48" stroke-width="1.1"/>
<path d="M441,565.5 L452,566.5 L455,604.5 L446,606 z" fill="#74c8ec"/>
<ellipse cx="451" cy="585.5" rx="11.5" ry="19.5" transform="rotate(8 451 585.5)" fill="#a4dcf4" stroke="#0c2c48" stroke-width="1"/>
<ellipse cx="456" cy="585" rx="10" ry="16" transform="rotate(8 456 585)" fill="#7ccbee" stroke="#0c2c48" stroke-width="1"/>
<ellipse cx="459.5" cy="584.8" rx="9" ry="14.5" transform="rotate(8 459.5 584.8)" fill="#bfe8f8" stroke="#0c2c48" stroke-width="1"/>
<!-- belt upper & lower runs -->
<path d="M396,552.5 L464,563.5 L468,568 L447,566.5 L404,560.5 z" fill="#66b5ea" stroke="#0c2c48" stroke-width="1" stroke-linejoin="round"/>
<path d="M404,633.5 L441,601.5 L446,605 L409,636.5 z" fill="#7cc4ee" stroke="#0c2c48" stroke-width="1" stroke-linejoin="round"/>
<!-- compressor body -->
<path d="M345,592 C345,586 350,580.5 356,580 L368,582 L396,590 L412,605 L400,642 L374.5,637 L347,612 C344,606 344,598 345,592 z" fill="url(#cmg)" stroke="#2a1a06" stroke-width="1.1" stroke-linejoin="round"/>
<path d="M352,590 C350,597 350,604 353,611 M358,586 C356,596 356,606 360,616" fill="none" stroke="#4a3210" stroke-width="1"/>
<path d="M360,583 L372,589 L372,596 L364,598 z" fill="#c9aa58" stroke="#2a1a06" stroke-width=".9"/>
<circle cx="353" cy="593" r="1.8" fill="#d8c27a" stroke="#2a1a06" stroke-width=".8"/>
<circle cx="373" cy="606" r="1.8" fill="#d8c27a" stroke="#2a1a06" stroke-width=".8"/>
<ellipse cx="393" cy="620" rx="13.5" ry="22" transform="rotate(18 393 620)" fill="#7a5a26" stroke="#2a1a06" stroke-width="1.1"/>
<ellipse cx="398" cy="622" rx="13.5" ry="22" transform="rotate(18 398 622)" fill="#4e3212" stroke="#2a1a06" stroke-width="1.1"/>
<ellipse cx="398.5" cy="622.5" rx="10.5" ry="18" transform="rotate(18 398.5 622.5)" fill="#94713a" stroke="#2a1a06" stroke-width=".9"/>
<ellipse cx="404" cy="612.5" rx="3.4" ry="4.6" transform="rotate(18 404 612.5)" fill="#dcc98c" stroke="#2a1a06" stroke-width=".8"/>
<ellipse cx="392.3" cy="620.5" rx="3.2" ry="4.4" transform="rotate(18 392.3 620.5)" fill="#dcc98c" stroke="#2a1a06" stroke-width=".8"/>
<ellipse cx="397.8" cy="632" rx="3.4" ry="4.6" transform="rotate(18 397.8 632)" fill="#dcc98c" stroke="#2a1a06" stroke-width=".8"/>
<circle cx="398.5" cy="622.5" r="1.3" fill="#cdb676"/>
<!-- belt left run + idler pulley -->
<path d="M382,561 L388.6,572 L381,628 L376.5,640 L371.5,632 z" fill="#74bfee" stroke="#0c2c48" stroke-width="1" stroke-linejoin="round"/>
<path d="M386,558 C388,552 394,551.5 399,553 L399,586 C394,586 388,582 386,576 z" fill="#5fb8ea" stroke="#0c2c48" stroke-width="1"/>
<ellipse cx="397.5" cy="569.5" rx="8" ry="11.2" transform="rotate(10 397.5 569.5)" fill="#8dd2f2" stroke="#0c2c48" stroke-width="1.1"/>
<ellipse cx="397" cy="569.5" rx="2.2" ry="3.2" fill="#1f6fc0" stroke="#0c2c48" stroke-width=".8"/>
</g>
<!-- pipes2 -->
<g id="pipes2">
<path d="M343.0,518.0 C344.4,519.0 347.4,520.4 350.0,523.0 C352.6,525.6 354.0,526.6 356.0,531.0 C358.0,535.4 358.6,538.2 360.0,545.0 C361.4,551.8 361.9,557.4 363.0,565.0 C364.1,572.6 365.0,579.4 365.5,583.0" fill="none" stroke="#101010" stroke-width="9.0" stroke-linecap="butt" stroke-linejoin="round"/><path d="M343.0,518.0 C344.4,519.0 347.4,520.4 350.0,523.0 C352.6,525.6 354.0,526.6 356.0,531.0 C358.0,535.4 358.6,538.2 360.0,545.0 C361.4,551.8 361.9,557.4 363.0,565.0 C364.1,572.6 365.0,579.4 365.5,583.0" fill="none" stroke="#7fdad2" stroke-width="6.8" stroke-linecap="butt" stroke-linejoin="round"/><path d="M343.0,518.0 C344.4,519.0 347.4,520.4 350.0,523.0 C352.6,525.6 354.0,526.6 356.0,531.0 C358.0,535.4 358.6,538.2 360.0,545.0 C361.4,551.8 361.9,557.4 363.0,565.0 C364.1,572.6 365.0,579.4 365.5,583.0" fill="none" stroke="#c6f2ee" stroke-width="2.0" stroke-linecap="butt" stroke-linejoin="round" transform="translate(-0.8,-1)"/>
<path d="M341,516.3 L345,518.7" fill="none" stroke="#101010" stroke-width="14.4" stroke-linecap="butt" stroke-linejoin="round"/><path d="M341,516.3 L345,518.7" fill="none" stroke="#8fe0da" stroke-width="12.2" stroke-linecap="butt" stroke-linejoin="round"/>
</g>
<!-- evap -->
<g id="evap2">
<!-- coils: cylinders -->
<g stroke="#06224a" stroke-width="1" stroke-linejoin="round">
<path d="M421,309 C424,303 431,302 436,305 L458,318 C462,322 462,330 458,334 L445,336 L424,324 C420,320 419,314 421,309 z" fill="url(#coil)"/>
<path d="M401,318 C404,312 411,311 416,314 L440,328 C444,332 444,340 440,344 L426,345 L404,333 C400,329 399,323 401,318 z" fill="url(#coil)"/>
<path d="M383,329 C386,322 393,321 398,324 L420,337 C424,341 424,349 420,353 L407,355 L386,343 C382,339 381,334 383,329 z" fill="url(#coil)"/>
</g>
<!-- coil end rings -->
<g fill="#0c1c80" stroke="#46d6e4" stroke-width="3.2">
<rect x="446.5" y="321" width="12" height="53" rx="6" transform="rotate(4 452 347)"/>
<rect x="427.5" y="332" width="12" height="49" rx="6" transform="rotate(4 433 356)"/>
<rect x="408.5" y="340" width="11.5" height="40" rx="5.7" transform="rotate(4 414 360)"/>
</g>
<g fill="none" stroke="#06224a" stroke-width=".8">
<rect x="444.9" y="319.4" width="15.2" height="56.2" rx="7.6" transform="rotate(4 452 347)"/>
<rect x="425.9" y="330.4" width="15.2" height="52.2" rx="7.6" transform="rotate(4 433 356)"/>
<rect x="406.9" y="338.4" width="14.7" height="43.2" rx="7.3" transform="rotate(4 414 360)"/>
</g>
<path d="M447,352 l10,-3 M447,358 l10,-3 M447,364 l10,-3 M428,360 l10,-3 M428,366 l10,-3 M428,372 l10,-3 M447,346 l10,-3" stroke="#e8f6fa" stroke-width="1.6" stroke-dasharray="2.5 2.5"/>
<!-- teal zigzag tubes on left -->
<path d="M389,356 L393,360 L391,384 L398,388 L400,362 L406,358" fill="none" stroke="#06224a" stroke-width="5.2" stroke-linejoin="round" stroke-linecap="round"/>
<path d="M389,356 L393,360 L391,384 L398,388 L400,362 L406,358" fill="none" stroke="#4fd8d0" stroke-width="3.2" stroke-linejoin="round" stroke-linecap="round"/>
<!-- violet block -->
<path d="M374,336 C374,331 385,330 386.4,335 L386.4,372 C384,376 376,376 374,371 z" fill="url(#vb)" stroke="#0c0c50" stroke-width="1"/>
<!-- red pipe over coils -->
<path d="M386.4,341 C392,337 400,338 406.8,343.9 L428.8,343.9 L464.5,326" fill="none" stroke="#3a1016" stroke-width="5" stroke-linecap="round" stroke-linejoin="round"/>
<path d="M386.4,341 C392,337 400,338 406.8,343.9 L428.8,343.9 L464.5,326" fill="none" stroke="#ea7c88" stroke-width="3.2" stroke-linecap="round" stroke-linejoin="round"/>
<path d="M411,348.2 L426,344.8" fill="none" stroke="#0c3030" stroke-width="4.6" stroke-linecap="round"/>
<path d="M411,348.2 L426,344.8" fill="none" stroke="#7fe0d8" stroke-width="2.8" stroke-linecap="round"/>
<circle cx="413" cy="374.5" r="13.3" fill="none" stroke="#d6404e" stroke-width="1.5"/>
<path d="M397,362 L396.5,372" stroke="#d6404e" stroke-width="3" stroke-linecap="round"/>
<!-- outlines -->
<path class="k" d="M359.7,336.8 L359.7,358.8 L370,373 L414.6,401.2 L438.2,403.5 L479,377.6 L480.6,343 L474.3,338.4 L468,318.7 L424,295.2 L392.7,307"/>
<path class="k" style="stroke-width:1" d="M439.8,372 L438.2,403.5"/>
<path d="M446,386 L470,372 L470,350 M446,386 L446,400 M470,372 L478,377" fill="none" stroke="#333" stroke-width="1" stroke-dasharray="4 3"/>
<ellipse cx="417" cy="397.2" rx="3" ry="1.6" fill="#2a2418"/>
<!-- drain tube -->
<path d="M414.5,402.5 C416,411 419,417 424,420 L431,422.5" fill="none" stroke="#222" stroke-width="5.4" stroke-linecap="round"/>
<path d="M414.5,402.5 C416,411 419,417 424,420 L430,422.2" fill="none" stroke="#b8b6a4" stroke-width="3.4" stroke-linecap="butt"/>
<ellipse cx="431.8" cy="422.8" rx="1.6" ry="2.4" fill="#222"/>
<!-- blower -->
<clipPath id="blclip"><ellipse cx="370.5" cy="311" rx="16.5" ry="23" transform="rotate(18 370.5 311)"/></clipPath>
<g>
<ellipse cx="359" cy="306.5" rx="20" ry="26.5" transform="rotate(18 359 306.5)" fill="url(#blw)" stroke="#1a1204" stroke-width="1.2"/>
<path d="M367.5,281.5 L378.2,286 L361.8,336.5 L351,332 z" fill="url(#blw)"/>
<path d="M359,281 C352,283 346,290 343,299" fill="none" stroke="#fdf0a0" stroke-width="3" stroke-linecap="round" opacity=".9"/>
<ellipse cx="370" cy="311" rx="20" ry="26.5" transform="rotate(18 370 311)" fill="#f3c41e" stroke="#1a1204" stroke-width="1.2"/>
<ellipse cx="370.5" cy="311" rx="16.5" ry="23" transform="rotate(18 370.5 311)" fill="#d9a015" stroke="#1a1204" stroke-width="1"/>
<g clip-path="url(#blclip)">
<ellipse cx="364" cy="309" rx="16.5" ry="23" transform="rotate(18 364 309)" fill="#3aa6dc" stroke="#1a1204" stroke-width="1"/>
<path d="M366,310 L358,292 L370,290 z M366,310 L384,300 L386,310 z M366,310 L372,332 L360,332 z M366,310 L350,318 L349,306 z M366,310 L376,294 L382,298 z M366,310 L356,328 L350,324 z" fill="#5fd0ec" stroke="#0a2a4a" stroke-width=".9" stroke-linejoin="round"/>
<path d="M352,317 L389,303" stroke="#0a2a4a" stroke-width="1.2"/>
<path d="M383,292 C390,300 389,318 382,330" fill="none" stroke="#f6d648" stroke-width="4" opacity=".9"/>
</g>
</g>
<path class="k" style="stroke-width:1" d="M389.8,309 L410,300.2"/>
<path d="M393.5,311 l-5,-1 l3,-3.4 z" fill="#111"/>
</g>
<!-- circle -->
<g id="circle">
<clipPath id="cclip"><circle cx="742.5" cy="262.5" r="185"/></clipPath>
<circle cx="742.5" cy="262.5" r="186.5" fill="#fff"/>
<g clip-path="url(#cclip)">
<path d="M563,300 C573,236 622,162 700,124 C755,102 812,106 848,146 L844,182 L650,262 L640,300 C610,310 580,310 560,300 z" fill="#f8f5cf" filter="url(#b10)"/>
<ellipse cx="640" cy="215" rx="38" ry="26" transform="rotate(-35 640 215)" fill="#c9c7b2" filter="url(#b10)" opacity=".9"/>
<ellipse cx="725" cy="150" rx="34" ry="28" fill="#cfcdb8" filter="url(#b10)" opacity=".85"/>
<ellipse cx="690" cy="215" rx="22" ry="18" fill="#d2d0bc" filter="url(#b10)" opacity=".7"/>
<ellipse cx="668" cy="222" rx="40" ry="20" transform="rotate(-30 668 222)" fill="#c4c2ae" filter="url(#b10)" opacity=".8"/>
<ellipse cx="600" cy="262" rx="25" ry="16" fill="#f4efb4" filter="url(#b6)" opacity=".9"/>
</g>
<linearGradient id="ftop" x1="0" y1="1" x2="1" y2="0"><stop offset="0" stop-color="#3cc6e4"/><stop offset=".4" stop-color="#7fdcf0"/><stop offset=".6" stop-color="#d2f4fb"/><stop offset=".8" stop-color="#6fd6ee"/><stop offset="1" stop-color="#22a6d2"/></linearGradient>
<linearGradient id="fleft" x1="0" y1="0" x2="0" y2="1"><stop offset="0" stop-color="#3ac6e4"/><stop offset=".6" stop-color="#2fb8dc"/><stop offset="1" stop-color="#1c96c8"/></linearGradient>
<linearGradient id="ffr" x1="0" y1="0" x2="1" y2="0"><stop offset="0" stop-color="#36c2e2"/><stop offset="1" stop-color="#2ab2da"/></linearGradient>
<path d="M644.5,263 L672.3,277.6 L664,406.6 L634.5,384 z" fill="url(#fleft)" stroke="#0a3550" stroke-width="1.1" stroke-linejoin="round"/>
<path d="M644.5,263 C645,260.5 647,258.5 650,257.3 L838,179.5 C841,178 843.5,177.5 845.4,178 L866.6,189.4 L672.3,277.6 z" fill="url(#ftop)" stroke="#0a3550" stroke-width="1.1" stroke-linejoin="round"/>
<path d="M672.3,277.6 L866.6,189.4 L867,193 L845.4,316.8 L664,406.6 z" fill="url(#ffr)" stroke="#0a3550" stroke-width="1.1" stroke-linejoin="round"/>
<clipPath id="pclip"><path d="M678.8,286.3 L860.0,201.2 L840.5,313.0 L669.5,396.5 z"/></clipPath>
<path d="M678.8,286.3 L860.0,201.2 L840.5,313.0 L669.5,396.5 z" fill="#d6f2fb" stroke="#0a3550" stroke-width="1"/>
<g clip-path="url(#pclip)">
<path d="M678.8,286.3 L683.5,284.1 L673.9,394.4 L669.5,396.5 z" fill="#1a58a6"/>
<path d="M683.5,284.1 L686.0,282.9 L676.3,393.2 L673.9,394.4 z" fill="#2c86cc"/>
<path d="M686.0,282.9 L688.4,281.8 L678.5,392.1 L676.3,393.2 z" fill="#55b6e4"/>
<path d="M688.4,281.8 L689.9,281.1 L680.0,391.4 L678.5,392.1 z" fill="#9adcf2"/>
<path d="M679.2,286.1 L669.9,396.3" stroke="#0b2a66" stroke-width="1.5"/>
<path d="M691.7,280.2 L696.4,278.0 L686.1,388.4 L681.7,390.5 z" fill="#1a58a6"/>
<path d="M696.4,278.0 L699.0,276.8 L688.6,387.2 L686.1,388.4 z" fill="#2c86cc"/>
<path d="M699.0,276.8 L701.3,275.7 L690.8,386.1 L688.6,387.2 z" fill="#55b6e4"/>
<path d="M701.3,275.7 L702.9,275.0 L692.2,385.4 L690.8,386.1 z" fill="#9adcf2"/>
<path d="M692.1,280.0 L682.1,390.4" stroke="#0b2a66" stroke-width="1.5"/>
<path d="M704.7,274.1 L709.3,272.0 L698.3,382.4 L693.9,384.6 z" fill="#1a58a6"/>
<path d="M709.3,272.0 L711.9,270.7 L700.8,381.2 L698.3,382.4 z" fill="#2c86cc"/>
<path d="M711.9,270.7 L714.3,269.6 L703.0,380.2 L700.8,381.2 z" fill="#55b6e4"/>
<path d="M714.3,269.6 L715.8,268.9 L704.4,379.4 L703.0,380.2 z" fill="#9adcf2"/>
<path d="M705.1,274.0 L694.3,384.4" stroke="#0b2a66" stroke-width="1.5"/>
<path d="M717.6,268.1 L722.3,265.9 L710.5,376.5 L706.1,378.6 z" fill="#1a58a6"/>
<path d="M722.3,265.9 L724.9,264.7 L713.0,375.3 L710.5,376.5 z" fill="#2c86cc"/>
<path d="M724.9,264.7 L727.2,263.6 L715.2,374.2 L713.0,375.3 z" fill="#55b6e4"/>
<path d="M727.2,263.6 L728.8,262.8 L716.6,373.5 L715.2,374.2 z" fill="#9adcf2"/>
<path d="M718.0,267.9 L706.5,378.4" stroke="#0b2a66" stroke-width="1.5"/>
<path d="M730.6,262.0 L735.2,259.8 L722.8,370.5 L718.4,372.6 z" fill="#1a58a6"/>
<path d="M735.2,259.8 L737.8,258.6 L725.2,369.3 L722.8,370.5 z" fill="#2c86cc"/>
<path d="M737.8,258.6 L740.1,257.5 L727.4,368.2 L725.2,369.3 z" fill="#55b6e4"/>
<path d="M740.1,257.5 L741.7,256.8 L728.9,367.5 L727.4,368.2 z" fill="#9adcf2"/>
<path d="M731.0,261.8 L718.7,372.5" stroke="#0b2a66" stroke-width="1.5"/>
<path d="M743.5,255.9 L748.2,253.7 L735.0,364.5 L730.6,366.7 z" fill="#1a58a6"/>
<path d="M748.2,253.7 L750.8,252.5 L737.4,363.3 L735.0,364.5 z" fill="#2c86cc"/>
<path d="M750.8,252.5 L753.1,251.4 L739.6,362.3 L737.4,363.3 z" fill="#55b6e4"/>
<path d="M753.1,251.4 L754.6,250.7 L741.1,361.5 L739.6,362.3 z" fill="#9adcf2"/>
<path d="M743.9,255.7 L730.9,366.5" stroke="#0b2a66" stroke-width="1.5"/>
<path d="M756.5,249.8 L761.1,247.6 L747.2,358.6 L742.8,360.7 z" fill="#1a58a6"/>
<path d="M761.1,247.6 L763.7,246.4 L749.6,357.4 L747.2,358.6 z" fill="#2c86cc"/>
<path d="M763.7,246.4 L766.0,245.3 L751.8,356.3 L749.6,357.4 z" fill="#55b6e4"/>
<path d="M766.0,245.3 L767.6,244.6 L753.3,355.6 L751.8,356.3 z" fill="#9adcf2"/>
<path d="M756.8,249.6 L743.2,360.5" stroke="#0b2a66" stroke-width="1.5"/>
<path d="M769.4,243.8 L774.1,241.6 L759.4,352.6 L755.0,354.8 z" fill="#1a58a6"/>
<path d="M774.1,241.6 L776.6,240.3 L761.8,351.4 L759.4,352.6 z" fill="#2c86cc"/>
<path d="M776.6,240.3 L779.0,239.3 L764.0,350.3 L761.8,351.4 z" fill="#55b6e4"/>
<path d="M779.0,239.3 L780.5,238.5 L765.5,349.6 L764.0,350.3 z" fill="#9adcf2"/>
<path d="M769.8,243.6 L755.4,354.6" stroke="#0b2a66" stroke-width="1.5"/>
<path d="M782.3,237.7 L787.0,235.5 L771.6,346.6 L767.2,348.8 z" fill="#1a58a6"/>
<path d="M787.0,235.5 L789.6,234.3 L774.1,345.4 L771.6,346.6 z" fill="#2c86cc"/>
<path d="M789.6,234.3 L791.9,233.2 L776.3,344.4 L774.1,345.4 z" fill="#55b6e4"/>
<path d="M791.9,233.2 L793.5,232.4 L777.7,343.7 L776.3,344.4 z" fill="#9adcf2"/>
<path d="M782.7,237.5 L767.6,348.6" stroke="#0b2a66" stroke-width="1.5"/>
<path d="M795.3,231.6 L799.9,229.4 L783.8,340.7 L779.4,342.8 z" fill="#1a58a6"/>
<path d="M799.9,229.4 L802.5,228.2 L786.3,339.5 L783.8,340.7 z" fill="#2c86cc"/>
<path d="M802.5,228.2 L804.9,227.1 L788.5,338.4 L786.3,339.5 z" fill="#55b6e4"/>
<path d="M804.9,227.1 L806.4,226.4 L789.9,337.7 L788.5,338.4 z" fill="#9adcf2"/>
<path d="M795.7,231.4 L779.8,342.6" stroke="#0b2a66" stroke-width="1.5"/>
<path d="M808.2,225.5 L812.9,223.3 L796.0,334.7 L791.6,336.9 z" fill="#1a58a6"/>
<path d="M812.9,223.3 L815.5,222.1 L798.5,333.5 L796.0,334.7 z" fill="#2c86cc"/>
<path d="M815.5,222.1 L817.8,221.0 L800.7,332.4 L798.5,333.5 z" fill="#55b6e4"/>
<path d="M817.8,221.0 L819.4,220.3 L802.1,331.7 L800.7,332.4 z" fill="#9adcf2"/>
<path d="M808.6,225.3 L792.0,336.7" stroke="#0b2a66" stroke-width="1.5"/>
<path d="M821.2,219.4 L825.8,217.2 L808.3,328.7 L803.9,330.9 z" fill="#1a58a6"/>
<path d="M825.8,217.2 L828.4,216.0 L810.7,327.6 L808.3,328.7 z" fill="#2c86cc"/>
<path d="M828.4,216.0 L830.7,214.9 L812.9,326.5 L810.7,327.6 z" fill="#55b6e4"/>
<path d="M830.7,214.9 L832.3,214.2 L814.4,325.8 L812.9,326.5 z" fill="#9adcf2"/>
<path d="M821.6,219.3 L804.2,330.7" stroke="#0b2a66" stroke-width="1.5"/>
<path d="M834.1,213.4 L838.8,211.2 L820.5,322.8 L816.1,324.9 z" fill="#1a58a6"/>
<path d="M838.8,211.2 L841.4,210.0 L822.9,321.6 L820.5,322.8 z" fill="#2c86cc"/>
<path d="M841.4,210.0 L843.7,208.9 L825.1,320.5 L822.9,321.6 z" fill="#55b6e4"/>
<path d="M843.7,208.9 L845.2,208.1 L826.6,319.8 L825.1,320.5 z" fill="#9adcf2"/>
<path d="M834.5,213.2 L816.4,324.7" stroke="#0b2a66" stroke-width="1.5"/>
<path d="M847.1,207.3 L851.7,205.1 L832.7,316.8 L828.3,319.0 z" fill="#1a58a6"/>
<path d="M851.7,205.1 L854.3,203.9 L835.1,315.6 L832.7,316.8 z" fill="#2c86cc"/>
<path d="M854.3,203.9 L856.6,202.8 L837.3,314.6 L835.1,315.6 z" fill="#55b6e4"/>
<path d="M856.6,202.8 L858.2,202.1 L838.8,313.8 L837.3,314.6 z" fill="#9adcf2"/>
<path d="M847.4,207.1 L828.7,318.8" stroke="#0b2a66" stroke-width="1.5"/>
<path d="M700,318 C720,322 735,335 745,352" fill="none" stroke="#fff" stroke-width="9" filter="url(#b2)" opacity=".9"/>
<path d="M745,294 C770,298 790,315 803,335" fill="none" stroke="#fff" stroke-width="9" filter="url(#b2)" opacity=".9"/>
<path d="M797,276 C815,280 830,292 843,305" fill="none" stroke="#fff" stroke-width="9" filter="url(#b2)" opacity=".9"/>
<path d="M669,396 L840,313" fill="none" stroke="#fff" stroke-width="7" filter="url(#b2)" opacity=".75"/>
</g>
<path d="M678.8,286.3 L860.0,201.2 L840.5,313.0 L669.5,396.5 z" fill="none" stroke="#0a3550" stroke-width="1.1"/>
<path d="M675.5,282.5 L863.5,196.5" fill="none" stroke="#0a3550" stroke-width=".8"/>
<path d="M675.5,282.5 L666.5,401.5" fill="none" stroke="#0a3550" stroke-width=".8"/>
<path d="M796.0,276.0 C800.8,278.3 815.2,284.0 825.0,290.0 C834.8,296.0 845.3,305.7 855.0,312.0 C864.7,318.3 875.9,324.2 883.0,328.0 C890.1,331.8 895.0,333.7 897.4,334.8" fill="none" stroke="#111" stroke-width="1.9" stroke-linecap="round"/><path d="M897.4,334.8 L872.6,331.1 L878.8,318.0 z" fill="#111"/>
<path d="M743.0,293.7 C748.3,296.1 764.7,301.1 775.0,308.0 C785.3,314.9 795.0,326.0 805.0,335.0 C815.0,344.0 825.8,353.9 835.0,362.0 C844.2,370.1 856.1,380.0 860.3,383.6" fill="none" stroke="#111" stroke-width="1.9" stroke-linecap="round"/><path d="M860.3,383.6 L837.3,373.5 L846.8,362.5 z" fill="#111"/>
<path d="M696.0,317.0 C701.3,319.5 717.7,324.8 728.0,332.0 C738.3,339.2 748.5,350.3 758.0,360.0 C767.5,369.7 776.7,380.5 785.0,390.0 C793.3,399.5 803.8,412.3 807.6,416.8" fill="none" stroke="#111" stroke-width="1.9" stroke-linecap="round"/><path d="M807.6,416.8 L786.6,403.1 L797.7,393.8 z" fill="#111"/>
<path d="M563.4,283.0 C567.0,282.7 578.1,280.8 585.0,281.0 C591.9,281.2 599.2,282.7 605.0,284.0 C610.8,285.3 615.3,287.4 620.0,289.0 C624.7,290.6 630.8,292.9 633.0,293.7" fill="none" stroke="#111" stroke-width="1.9" stroke-linecap="round"/><path d="M633.0,293.7 L608.0,292.4 L612.9,278.7 z" fill="#111"/>
<path d="M575.0,204.5 C579.2,207.4 591.7,216.1 600.0,222.0 C608.3,227.9 617.4,234.8 625.0,240.0 C632.6,245.2 642.1,250.8 645.5,253.0" fill="none" stroke="#111" stroke-width="1.9" stroke-linecap="round"/><path d="M645.5,253.0 L621.3,246.3 L629.1,234.0 z" fill="#111"/>
<path d="M617.0,141.0 C620.8,145.8 632.0,160.7 640.0,170.0 C648.0,179.3 656.3,188.3 665.0,197.0 C673.7,205.7 687.5,217.8 692.0,222.0" fill="none" stroke="#111" stroke-width="1.9" stroke-linecap="round"/><path d="M692.0,222.0 L669.5,211.0 L679.3,200.4 z" fill="#111"/>
<path d="M681.4,110.0 C683.2,115.0 688.1,130.0 692.0,140.0 C695.9,150.0 700.7,161.2 705.0,170.0 C709.3,178.8 713.8,186.3 718.0,193.0 C722.2,199.7 728.0,207.2 730.0,210.0" fill="none" stroke="#111" stroke-width="1.9" stroke-linecap="round"/><path d="M730.0,210.0 L710.2,194.6 L722.1,186.2 z" fill="#111"/>
<path d="M743.0,99.0 C743.5,103.3 744.0,116.5 746.0,125.0 C748.0,133.5 751.7,142.2 755.0,150.0 C758.3,157.8 762.5,165.7 766.0,172.0 C769.5,178.3 774.3,185.3 776.0,188.0" fill="none" stroke="#111" stroke-width="1.9" stroke-linecap="round"/><path d="M776.0,188.0 L757.1,171.5 L769.4,163.8 z" fill="#111"/>
<path d="M612.8,182.8 C617,190 623,196 630.6,200.5" fill="none" stroke="#111" stroke-width="1.6" stroke-linecap="round"/>
<path d="M786.9,92.6 l0.5,0.7 M770.0,124.8 l0.5,0.7 M720.8,124.8 l0.5,0.7 M680.5,139.3 l0.5,0.7 M788.5,154.4 l0.5,0.7 M717.6,182.8 l0.5,0.7 M767.5,196.3 l0.5,0.7 M719.2,216.6 l0.5,0.7 M661.2,221.5 l0.5,0.7 M740.0,136.0 l0.5,0.7 M749,98 l1.2,5 M751.5,98.5 q2.5,2.5 0,4.5 M803,114.5 q1.5,2 -0.5,4.5 M806,141.5 q3,1.5 1,3.5 q-3,0 -1,-3.5 M809.5,145.5 l1.5,1 M671,149.5 l3,5 l-4.5,0.5 z M619.5,158.8 l2.5,-0.6 M725,155 l1.2,4 M669,167.5 q2,-2.5 4,-0.5 M739.5,170 q3,1 1.5,3 q-3,0.5 -1.5,-3 M744,172.5 l1.2,0.8 M800.5,172 l0.8,0.8 M802,175 l0.8,0.8 M662,180.5 q1.8,2 0.8,4.5 M702.5,181 q-3,4 -0.5,7.5 M597.5,210.5 l4.5,1.2 M644.5,222.5 q-3,4 -0.5,8 M679.5,225 q2.5,3 0,6.5 M665,240.5 q2,-2.5 3.5,0 q1.5,2 3.5,-0.5 M592.5,238.5 q3,1.5 1,4.5 M578,253.5 l2,3 M601,262.5 q-0.5,5 3.5,4.5 M628.5,264.5 q0.2,4 1.8,7" fill="none" stroke="#111" stroke-width="1.8" stroke-linecap="round" stroke-linejoin="round"/>
<circle cx="742.5" cy="262.5" r="186.5" fill="none" stroke="#111" stroke-width="3"/>
<path d="M556,270 C530,266 500,266 478,272 C462,277 452,283 446,289" fill="none" stroke="#111" stroke-width="3.2" stroke-linecap="round"/>
<path d="M436.5,296 L444.5,279 L457,293.5 z" fill="#111"/>
</g>
<!-- leaders -->
<g id="leaders">
<path class="ld" d="M432.5,208.0 L430.3,304.0"/>
<path class="ld" d="M290.0,258.0 L349.0,300.2"/>
<path class="ld" d="M205.0,296.0 L302.6,365.7"/>
<path class="ld" d="M116.0,346.0 L224.0,368.0"/>
<path class="ld" d="M116.0,346.0 L251.6,401.8"/>
<path class="ld" d="M123.0,528.0 L71.0,616.0"/>
<path class="ld" d="M257.0,556.0 L161.0,725.0"/>
<path class="ld" d="M247.6,620.0 L333.0,752.5"/>
<path class="ld" d="M404.0,631.5 L499.0,752.6"/>
<path class="ld" d="M464.0,570.5 L689.5,637.5"/>
<path class="ld" d="M433.0,423.0 L703.0,567.0"/>
<path class="ld" d="M717.7,368.0 L796.0,495.0"/>
<path class="ld" d="M800.0,166.0 L913.0,137.0"/>
<path d="M345.2,263.8 C346.2,265.7 349.1,271.8 351.0,275.0 C352.9,278.2 355.6,281.9 356.5,283.3" fill="none" stroke="#111" stroke-width="1.5" stroke-linecap="round"/><path d="M356.5,283.3 L349.0,277.5 L354.0,274.1 z" fill="#111"/>
<path d="M325.0,267.6 C326.7,269.8 331.8,277.0 335.0,281.0 C338.2,285.0 342.5,289.7 344.0,291.4" fill="none" stroke="#111" stroke-width="1.5" stroke-linecap="round"/><path d="M344.0,291.4 L335.8,286.6 L340.4,282.6 z" fill="#111"/>
<path d="M310.0,286.4 C312.3,287.5 319.4,290.6 324.0,293.0 C328.6,295.4 335.4,299.6 337.7,300.9" fill="none" stroke="#111" stroke-width="1.5" stroke-linecap="round"/><path d="M337.7,300.9 L328.4,299.0 L331.4,293.8 z" fill="#111"/>
<path d="M311.3,304.0 C313.2,304.5 319.0,305.8 323.0,307.0 C327.0,308.2 333.2,310.8 335.2,311.5" fill="none" stroke="#111" stroke-width="1.5" stroke-linecap="round"/><path d="M335.2,311.5 L325.7,311.2 L327.8,305.6 z" fill="#111"/>
<path d="M273,301.5 Q287,300 300,302.5" fill="none" stroke="#111" stroke-width="1.5" stroke-linecap="round"/>
<path d="M476.0,354.5 C478.3,354.8 485.6,354.9 490.0,356.0 C494.4,357.1 498.7,358.8 502.5,361.0 C506.3,363.2 509.7,366.2 513.0,369.0 C516.3,371.8 519.6,375.6 522.4,377.7 C525.2,379.8 527.6,380.7 530.0,381.5 C532.4,382.3 535.8,382.5 537.0,382.7" fill="none" stroke="#111" stroke-width="2" stroke-dasharray="7 4.5"/><path d="M537.0,382.7 L524.5,384.6 L525.8,376.7 z" fill="#111"/>
<path d="M472.6,369.4 C475.2,370.2 483.0,371.8 488.0,374.0 C493.0,376.2 497.8,379.7 502.5,382.7 C507.2,385.7 511.6,388.9 516.0,392.0 C520.4,395.1 524.7,398.5 529.0,401.0 C533.3,403.5 537.6,405.6 542.0,407.0 C546.4,408.4 553.3,408.9 555.6,409.3" fill="none" stroke="#111" stroke-width="2" stroke-dasharray="7 4.5"/><path d="M555.6,409.3 L543.1,411.2 L544.4,403.4 z" fill="#111"/>
<path d="M462.6,381.0 C464.8,382.0 471.6,384.5 476.0,387.0 C480.4,389.5 484.7,392.3 489.0,396.0 C493.3,399.7 497.5,404.6 502.0,409.0 C506.5,413.4 510.3,419.4 515.8,422.6 C521.3,425.8 528.4,426.9 535.0,428.0 C541.6,429.1 552.2,428.8 555.6,429.0" fill="none" stroke="#111" stroke-width="2" stroke-dasharray="7 4.5"/><path d="M555.6,429.0 L543.4,432.4 L543.8,424.4 z" fill="#111"/>
<path d="M456.0,389.4 C457.7,390.8 462.7,394.7 466.0,398.0 C469.3,401.3 472.2,405.3 476.0,409.3 C479.8,413.3 484.6,418.1 489.0,422.0 C493.4,425.9 500.2,430.8 502.5,432.5" fill="none" stroke="#111" stroke-width="2" stroke-dasharray="7 4.5"/><path d="M502.5,432.5 L490.6,428.3 L495.5,422.0 z" fill="#111"/>
</g>
<!-- labels -->
<g id="labels">
<text class="t" x="279.5" y="43">Air Conditioning System</text>
<text class="l" x="370.5" y="150.5">Evaporator and</text>
<text class="l" x="370.5" y="175">Heater Core</text>
<text class="l" x="370.5" y="199.5">(under dash)</text>
<text class="l" x="256" y="253.5">Blower</text>
<text class="l" x="81" y="290">Expansion Valve</text>
<text class="l" x="37.5" y="338">Service Valves</text>
<text class="l" x="23.5" y="638">Receiver/</text>
<text class="l" x="23.5" y="662">Dryer</text>
<text class="l" x="94" y="752.5">Condenser Fan</text>
<text class="l" x="287" y="779">Condenser</text>
<text class="l" x="463.5" y="775">Compressor</text>
<text class="l" x="697" y="647">Compressor Belt</text>
<text class="l" x="714" y="571">Condensation</text>
<text class="l" x="714" y="595.5">Drain Tube</text>
<text class="l" x="760" y="520.5">Micron Filter</text>
<text class="l" x="922.5" y="128">Pollen</text>
<text class="l" x="922.5" y="152">and Dust</text>
</g>
</svg>
</body></html>
